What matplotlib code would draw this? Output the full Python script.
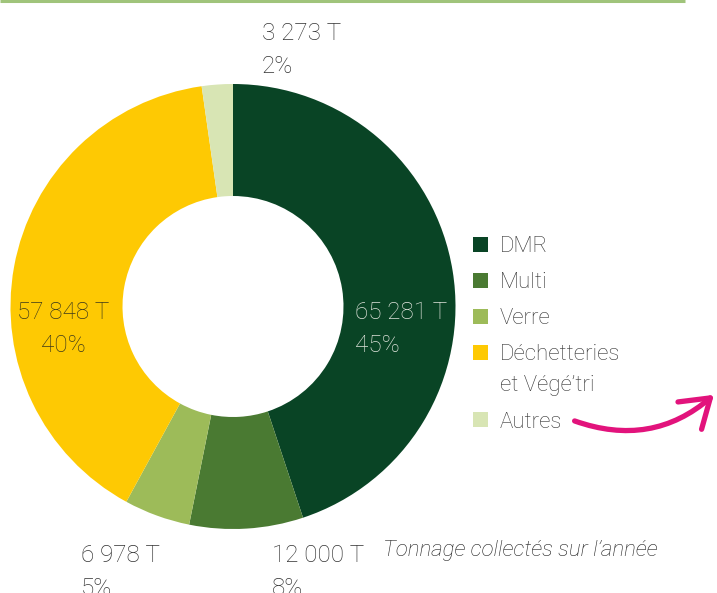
import matplotlib
matplotlib.use("Agg")
import matplotlib.pyplot as plt
from matplotlib.patches import Rectangle, FancyArrowPatch

plt.rcParams['font.family'] = ['Roboto', 'Liberation Sans', 'DejaVu Sans']
plt.rcParams['font.weight'] = 'light'

# donnees
categories = ['DMR', 'Multi', 'Verre', 'Déchetteries\net Végé’tri', 'Autres']
tonnages = [65281, 12000, 6978, 57848, 3273]
tonnage_labels = ['65 281 T', '12 000 T', '6 978 T', '57 848 T', '3 273 T']
pourcentages = ['45%', '8%', '5%', '40%', '2%']
couleurs = ['#094425', '#4a7a32', '#9dbb59', '#fec903', '#d8e5b4']

W, H = 717, 593
PAS = 33  # ecart entre deux lignes de texte (px)


def py(y):
    # coordonnee image (depuis le haut) -> coordonnee axe
    return H - y


def etiquette(ax, x, y, lignes, ha='left', **kw):
    # une ligne = un texte, y = ligne de base de la premiere
    for i, l in enumerate(lignes):
        ax.text(x, py(y + i * PAS), l, ha=ha, va='baseline', **kw)


fig = plt.figure(figsize=(W / 100, H / 100), dpi=100)
ax = fig.add_axes([0, 0, 1, 1])

# ligne verte en haut
ax.plot([0, 685], [py(1), py(1)], color='#a0c47b', lw=2.2, solid_capstyle='butt')

# anneau
ax.pie(tonnages, colors=couleurs, startangle=90, counterclock=False,
       center=(233, py(306.5)), radius=222.5,
       wedgeprops=dict(width=112, linewidth=0), frame=True)
ax.set_xlim(0, W)
ax.set_ylim(0, H)
ax.axis('off')

fs = 17.5
gris = '#333333'
# DMR (dans l'anneau)
etiquette(ax, 355, 319, [tonnage_labels[0], pourcentages[0]], fontsize=fs, color='#dfe3db')
# Multi
etiquette(ax, 272, 562, [tonnage_labels[1], pourcentages[1]], fontsize=fs, color=gris)
# Verre
etiquette(ax, 81, 562, [tonnage_labels[2], pourcentages[2]], fontsize=fs, color=gris)
# Dechetteries
etiquette(ax, 63.5, 319, [tonnage_labels[3], pourcentages[3]], ha='center',
          fontsize=fs, color='#3d3a1a')
# Autres
etiquette(ax, 262, 40, [tonnage_labels[4], pourcentages[4]], fontsize=fs, color=gris)

# legende
y = 244
for cat, col in zip(categories, couleurs):
    ax.add_patch(Rectangle((473, py(y + 7.5)), 15, 15, color=col, lw=0))
    lignes = cat.split('\n')
    for i, l in enumerate(lignes):
        ax.text(500, py(y + 8.5 + 31 * i), l, fontsize=16,
                va='baseline', ha='left', color=gris)
    y += 36 + 31 * (len(lignes) - 1)

# titre
ax.text(383, py(556), 'Tonnage collectés sur l’année', fontsize=16,
        style='italic', color='#222222', ha='left', va='baseline')

# fleche
fleche = FancyArrowPatch((572, py(420)), (716, py(393)),
                         connectionstyle='arc3,rad=0.3',
                         arrowstyle='->,head_length=0.75,head_width=0.5',
                         mutation_scale=26, color='#e2137c', lw=3.8,
                         capstyle='round', joinstyle='round')
ax.add_patch(fleche)

fig.savefig('out.png', dpi=100)
